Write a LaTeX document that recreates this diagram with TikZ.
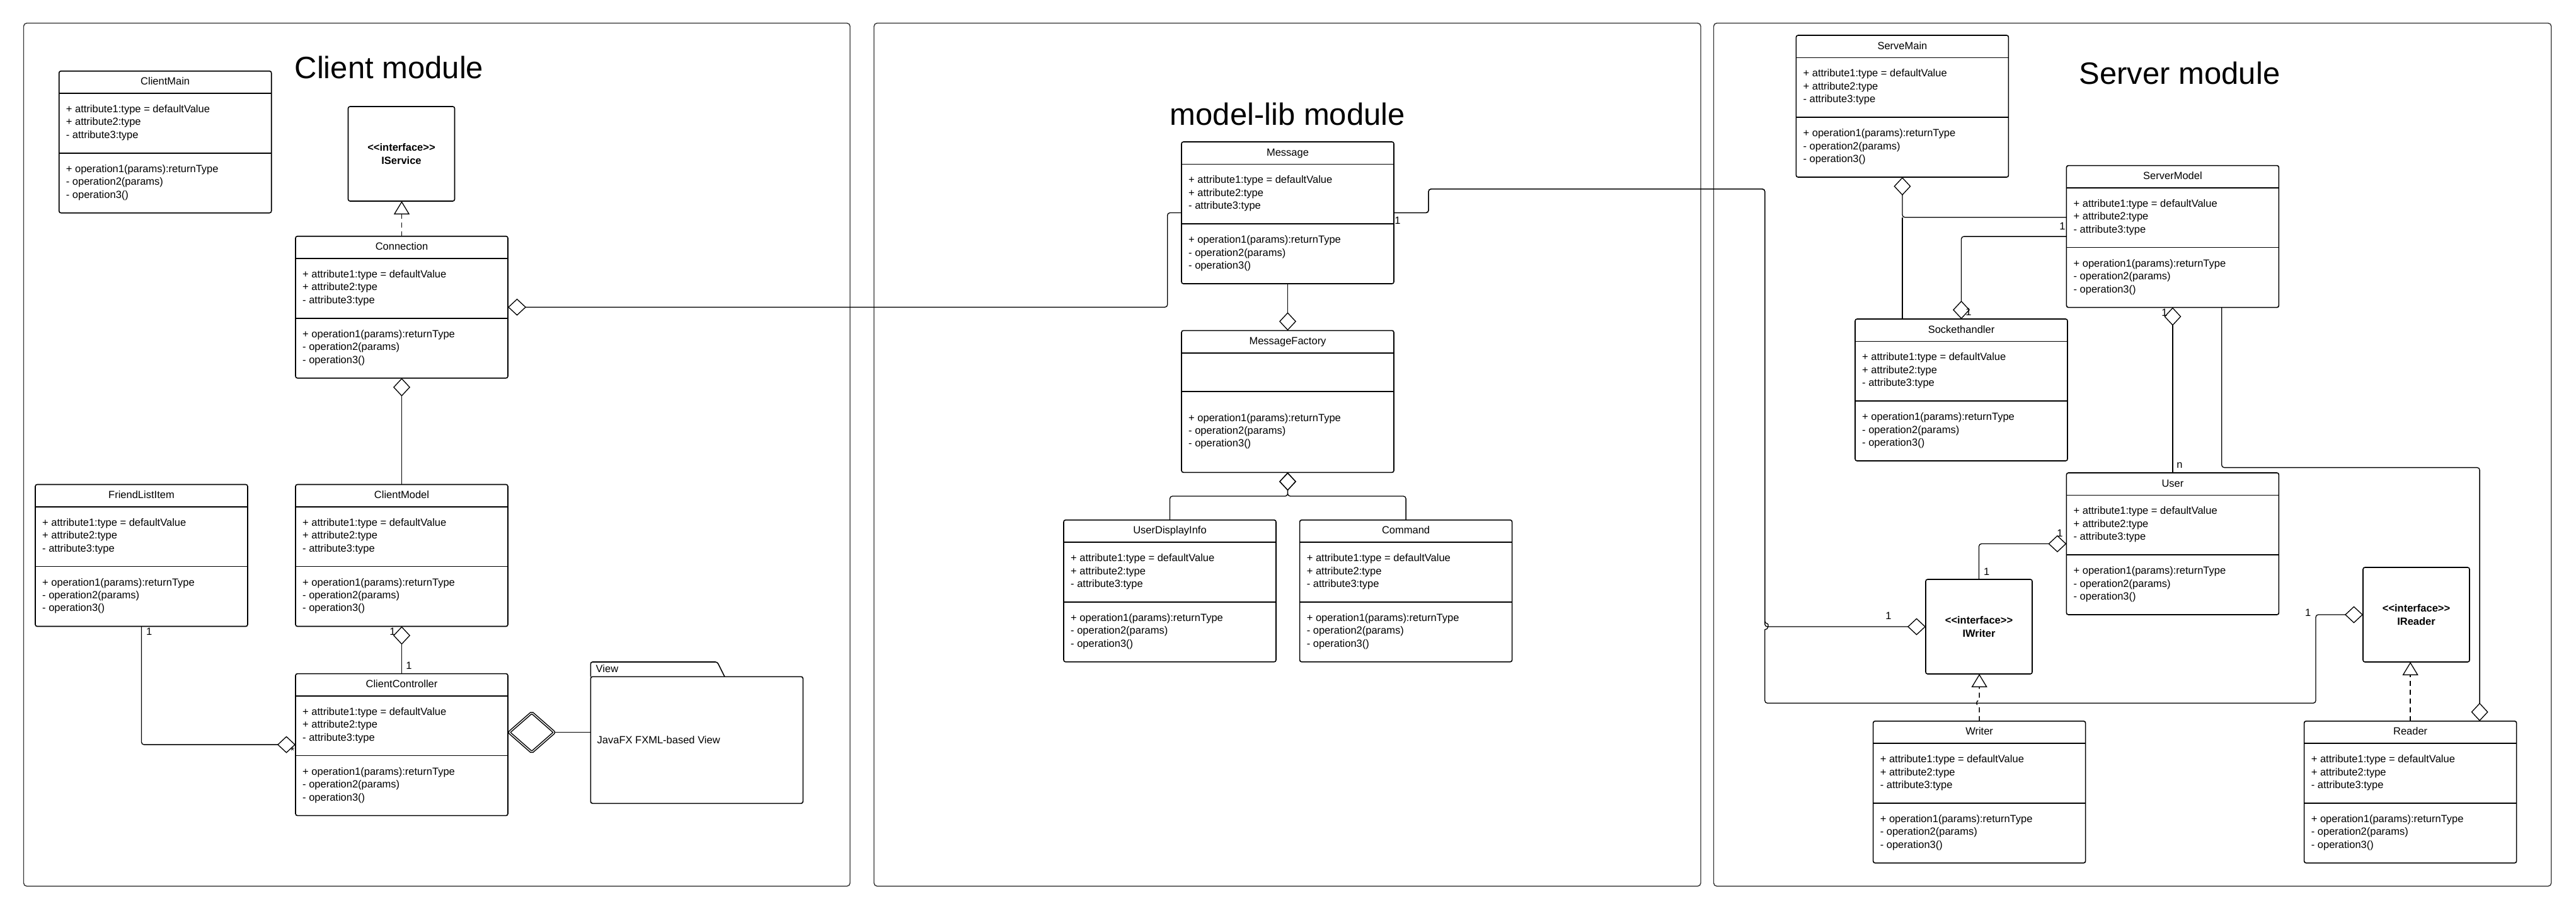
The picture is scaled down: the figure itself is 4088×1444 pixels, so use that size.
\documentclass[tikz,border=0pt]{standalone}
\usepackage{fontspec}
\setmainfont{Liberation Sans}
\usetikzlibrary{arrows.meta,shapes.geometric,calc}

\newcommand\mfont{\fontsize{16.5pt}{20.4pt}\selectfont}
\newcommand\stereo[1]{\mbox{<}\mbox{<}#1\mbox{>}\mbox{>}}
\newcommand\attrs{+ attribute1:type = defaultValue\\+ attribute2:type\\- attribute3:type}
\newcommand\opers{+ operation1(params):returnType\\- operation2(params)\\- operation3()}

\tikzset{
 classbox/.style={draw, line width=1.6pt, rounded corners=3pt, minimum width=337pt, minimum height=225pt, inner sep=0pt, outer sep=0pt, anchor=north west},
 ifacebox/.style={draw, line width=1.6pt, rounded corners=3pt, minimum width=169pt, minimum height=150pt, inner sep=0pt, outer sep=0pt, font=\mfont\bfseries, align=center},
 divider/.style={line width=1.7pt},
 member/.style={font=\mfont, align=left, inner sep=0pt, anchor=west},
 ctitle/.style={font=\mfont, inner sep=0pt, anchor=base},
 mlabel/.style={font=\mfont, inner sep=0pt},
 conn/.style={line width=1.3pt, rounded corners=4pt},
 agg/.style={conn, -{Diamond[open, length=29pt, width=27pt]}},
 realize/.style={line width=1.3pt, dash pattern=on 8pt off 6pt, -{Triangle[open, length=21pt, width=25pt]}},
 panel/.style={draw=black!80, line width=1.4pt, rounded corners=5pt},
 bigtitle/.style={font=\fontsize{49pt}{58pt}\selectfont, inner sep=0pt, anchor=base},
}

\newcommand\umlclass[4]{%
 \node[classbox] (#1) at (#2,#3) {};
 \draw[divider] ([yshift=-35.5pt]#1.north west) -- ([yshift=-35.5pt]#1.north east);
 \draw[divider] ([yshift=-130pt]#1.north west) -- ([yshift=-130pt]#1.north east);
 \node[ctitle] (#1-title) at ([yshift=-22pt]#1.north) {#4};
 \node[member] (#1-attrs) at ([xshift=11pt,yshift=-82pt]#1.north west) {\attrs};
 \node[member] (#1-ops) at ([xshift=11pt,yshift=-176.8pt]#1.north west) {\opers};
}

\begin{document}
\begin{tikzpicture}[x=1pt, y=-1pt]
\useasboundingbox (0,0) rectangle (4088,1444);

% panels
\draw[panel] (37.5,36.7) rectangle (1349,1405.6);
\draw[panel] (1387,36.7) rectangle (2699,1405.6);
\draw[panel] (2719.5,36.7) rectangle (4048.7,1405.6);

% titles
\node[bigtitle] (tclient) at (617.5,124) {Client module};
\node[bigtitle] (tmodel) at (2043.4,198.3) {model-lib module};
\node[bigtitle] (tserver) at (3459,133) {Server module};

% ---------- client module ----------
\umlclass{ClientMain}{93.7}{112.7}{ClientMain}
\umlclass{Connection}{469}{374.7}{Connection}
\umlclass{FriendListItem}{56}{768.5}{FriendListItem}
\umlclass{ClientModel}{469}{768.5}{ClientModel}
\umlclass{ClientController}{469}{1068.6}{ClientController}
\node[ifacebox] (IService) at (637,244) {\stereo{interface}\\IService};

% view package
\node[draw, line width=1.6pt, rounded corners=3pt, minimum width=337pt, minimum height=201pt, inner sep=0pt, outer sep=0pt, anchor=north west] (view) at (937.3,1073.3) {};
\draw[line width=1.6pt, rounded corners=3pt] (view.north west) -- (937.3,1050) -- (1138.3,1050) -- (1150,1073.3);
\node[mlabel, anchor=west] (viewname) at (945.5,1061) {View};
\node[mlabel, anchor=west] (viewtext) at (947.5,1173.3) {JavaFX FXML-based View};
\node[draw, shape=diamond, double, line width=1.5pt, double distance=1.3pt, rounded corners=2pt, minimum width=72pt, minimum height=63pt, inner sep=0pt, outer sep=0pt] (vdia) at (843.85,1161.7) {};
\draw[line width=1pt] (vdia.east) -- (vdia.east -| view.west);

% client connectors
\draw[realize] (Connection.north) -- (Connection.north |- IService.south);
\draw[agg] (ClientModel.north) -- (Connection.south);
\draw[agg] (ClientController.north) -- (ClientModel.south);
\node[mlabel] (l1) at (623,1001.6) {1};
\node[mlabel] (l2) at (649,1056) {1};
\draw[agg] (FriendListItem.south) |- (ClientController.west);
\node[mlabel] (l3) at (236.6,1001.6) {1};
\node[mlabel] (l4) at (464,1191) {*};

% ---------- model-lib module ----------
\umlclass{Message}{1875}{225}{Message}
\node[classbox] (MessageFactory) at (1875,524.3) {};
\draw[divider] ([yshift=-36pt]MessageFactory.north west) -- ([yshift=-36pt]MessageFactory.north east);
\draw[divider] ([yshift=-97pt]MessageFactory.north west) -- ([yshift=-97pt]MessageFactory.north east);
\node[ctitle] (MessageFactory-title) at ([yshift=-22pt]MessageFactory.north) {MessageFactory};
\node[member] (MessageFactory-ops) at ([xshift=11pt,yshift=-160pt]MessageFactory.north west) {\opers};
\umlclass{UserDisplayInfo}{1688}{824.8}{UserDisplayInfo}
\umlclass{Command}{2062.6}{824.8}{Command}

\draw[agg] (Message.west) -- ++(-22.3,0) |- (Connection.east);
\draw[agg] (Message.south) -- (MessageFactory.north);
\draw[agg] (UserDisplayInfo.north) -- ++(0,-37.8) -| (MessageFactory.south);
\draw[agg] (Command.north) -- ++(0,-37.8) -| (MessageFactory.south);

% ---------- server module ----------
\umlclass{ServeMain}{2850.4}{56}{ServeMain}
\umlclass{ServerModel}{3279.4}{262.6}{ServerModel}
\umlclass{Sockethandler}{2944}{506}{Sockethandler}
\umlclass{User}{3279.4}{750}{User}
\umlclass{Writer}{2972.6}{1143.8}{Writer}
\umlclass{Reader}{3656.6}{1143.8}{Reader}
\node[ifacebox] (IWriter) at (3140.5,994) {\stereo{interface}\\IWriter};
\node[ifacebox] (IReader) at (3834.5,975) {\stereo{interface}\\IReader};

% Message to server interfaces
\draw[agg] (Message.east) -- ++(55,0) |- (2800.7,299.8) |- (IWriter.west);
\draw[agg] (Message.east) -- ++(55,0) |- (2800.7,299.8) -- (2800.7,989.2) [sharp corners] .. controls (2807,989.2) and (2807,998.8) .. (2800.7,998.8) [rounded corners=4pt] -- (2800.7,1115.3) -| (3675,975) -- (IReader.west);
\node[mlabel] (l5) at (2218,350) {1};
\node[mlabel] (l6) at (2997,976.7) {1};
\node[mlabel] (l7) at (3662.7,971.7) {1};

\draw[agg] ([yshift=30.4pt]ServerModel.west) -| (ServeMain.south);
\draw[conn] (ServeMain.south |- Sockethandler.north) -- ([yshift=30.4pt]ServerModel.west -| ServeMain.south);
\node[mlabel] (l8) at (3273,358.7) {1};
\draw[agg] (ServerModel.west) -| (Sockethandler.north);
\node[mlabel] (l9) at (3124,495) {1};
\draw[agg] (User.north) -- (ServerModel.south);
\node[mlabel] (l10) at (3435,496) {1};
\node[mlabel] (l11) at (3459,738.5) {n};
\draw[agg] ([xshift=77.8pt]ServerModel.south) -- ++(0,254) -| ([xshift=110pt]Reader.north);
\draw[agg] (IWriter.north) |- (User.west);
\node[mlabel] (l12) at (3152.7,906.7) {1};
\node[mlabel] (l13) at (3269,845.6) {1};

\coordinate (hopW) at (3141.1,1115.3);
\draw[realize] (Writer.north) -- ([yshift=-4.5pt]hopW) .. controls ([xshift=-6pt,yshift=-4.5pt]hopW) and ([xshift=-6pt,yshift=4.5pt]hopW) .. ([yshift=4.5pt]hopW) -- (hopW |- IWriter.south);
\draw[realize] (Reader.north) -- (Reader.north |- IReader.south);

\end{tikzpicture}
\end{document}
